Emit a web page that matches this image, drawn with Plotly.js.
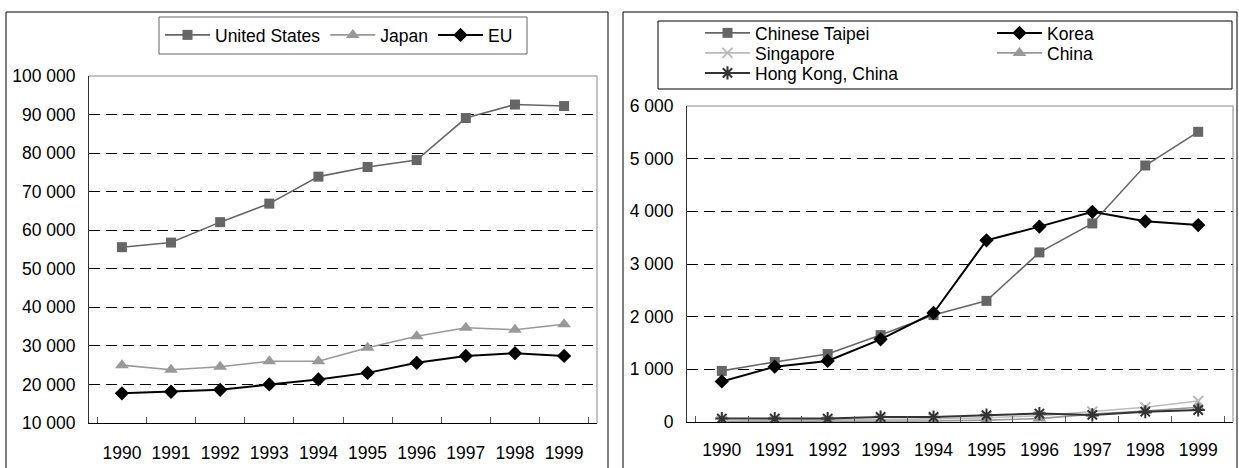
<!DOCTYPE html>
<html>
<head>
<meta charset="utf-8">
<script src="https://cdn.plot.ly/plotly-3.0.1.min.js"></script>
<style>html,body{margin:0;padding:0;background:#fff;}#chart{width:1239px;height:468px;}</style>
</head>
<body>
<div id="chart"></div>
<script>
// ---- data ----
const years = ['1990','1991','1992','1993','1994','1995','1996','1997','1998','1999'];

const unitedStates = [55600, 56800, 62100, 66900, 73900, 76400, 78200, 89100, 92600, 92200];
const japan        = [25000, 23800, 24600, 26000, 26000, 29500, 32500, 34700, 34200, 35600];
const eu           = [17700, 18100, 18600, 20000, 21300, 23000, 25600, 27400, 28100, 27400];

const chineseTaipei = [970, 1140, 1290, 1650, 2030, 2300, 3220, 3770, 4870, 5510];
const korea         = [770, 1050, 1160, 1570, 2070, 3450, 3710, 3990, 3810, 3740];
const singapore     = [20, 25, 30, 45, 60, 80, 120, 200, 280, 400];
const china         = [5, 5, 10, 15, 20, 35, 65, 150, 210, 280];
const hongKong      = [65, 65, 65, 95, 95, 130, 160, 135, 195, 228];

const W = 1239, H = 468;
const px = v => v / W;
const py = v => 1 - v / H;
const FONT = '"Liberation Sans", Arial, sans-serif';
const FS = 17.5;

function tr(name, y, color, symbol, size, xa, ya, legend, lw, mlinew) {
  return {
    type: 'scatter', mode: 'lines+markers', name: name,
    x: years, y: y, xaxis: xa, yaxis: ya, legend: legend,
    line: {color: color, width: lw},
    marker: {color: color, symbol: symbol, size: size, line: {color: color, width: mlinew || 0}},
    hoverinfo: 'x+y+name'
  };
}

const traces = [
  tr('United States', unitedStates, '#666666', 'square', 10, 'x', 'y', 'legend', 1.6),
  tr('Japan', japan, '#999999', 'triangle-up', 12, 'x', 'y', 'legend', 1.6),
  tr('EU', eu, '#000000', 'diamond', 11, 'x', 'y', 'legend', 2),
  tr('Chinese Taipei', chineseTaipei, '#666666', 'square', 10, 'x2', 'y2', 'legend2', 1.6),
  tr('Korea', korea, '#000000', 'diamond', 11, 'x2', 'y2', 'legend3', 2),
  tr('Singapore', singapore, '#bbbbbb', 'x-thin-open', 10, 'x2', 'y2', 'legend4', 1.6, 2),
  tr('China', china, '#999999', 'triangle-up', 12, 'x2', 'y2', 'legend5', 1.6),
  tr('Hong Kong, China', hongKong, '#333333', 'asterisk-open', 11, 'x2', 'y2', 'legend6', 2, 2)
];

const xCommon = {
  type: 'category', showline: true, linecolor: '#000', linewidth: 1,
  ticks: 'inside', tickson: 'boundaries', ticklen: 6, tickcolor: '#555', tickwidth: 1,
  showgrid: false, zeroline: false, fixedrange: true,
  tickfont: {family: FONT, size: FS, color: '#000'}
};
const yCommon = {
  showline: true, linecolor: '#333', linewidth: 1, ticks: '',
  showgrid: true, gridcolor: '#000', gridwidth: 1, griddash: '11px,6px',
  zeroline: false, fixedrange: true, tickformat: ',d',
  tickfont: {family: FONT, size: FS, color: '#000'}, ticklabelstandoff: 9
};

const legendCommon = {
  orientation: 'v', bgcolor: 'rgba(0,0,0,0)', borderwidth: 0,
  font: {family: FONT, size: FS, color: '#000'}, xanchor: 'left', yanchor: 'top',
  itemwidth: 45, tracegroupgap: 0, itemclick: false, itemdoubleclick: false
};
const lg = (x, y, extra) => Object.assign({}, legendCommon, {x: px(x), y: py(y)}, extra || {});

const layout = {
  width: W, height: H,
  margin: {l: 0, r: 0, t: 0, b: 0, pad: 0},
  paper_bgcolor: '#fff', plot_bgcolor: '#fff',
  separators: '. ',
  font: {family: FONT, size: FS, color: '#000'},
  showlegend: true,
  xaxis: Object.assign({}, xCommon, {domain: [px(89), px(597)], anchor: 'y', ticklabelstandoff: 14}),
  yaxis: Object.assign({}, yCommon, {domain: [py(423), py(76)], range: [10000, 100000], dtick: 10000, anchor: 'x'}),
  xaxis2: Object.assign({}, xCommon, {domain: [px(687), px(1233)], anchor: 'y2', ticklabelstandoff: 12}),
  yaxis2: Object.assign({}, yCommon, {domain: [py(422), py(106)], range: [0, 6000], dtick: 1000, anchor: 'x2'}),
  legend: lg(160, 17, {orientation: 'h'}),
  legend2: lg(700, 15),
  legend3: lg(992, 15),
  legend4: lg(700, 35),
  legend5: lg(992, 35),
  legend6: lg(700, 55),
  shapes: [
    // panel frames
    {type: 'rect', xref: 'paper', yref: 'paper', x0: px(6), x1: px(608), y0: -0.05, y1: py(12), line: {color: '#000', width: 1}},
    {type: 'rect', xref: 'paper', yref: 'paper', x0: px(623), x1: px(1237), y0: -0.05, y1: py(12), line: {color: '#000', width: 1}},
    // plot-area top/right borders
    {type: 'path', xref: 'x domain', yref: 'y domain', path: 'M 0 1 L 1 1 L 1 0', line: {color: '#888', width: 1}, layer: 'above'},
    {type: 'path', xref: 'x2 domain', yref: 'y2 domain', path: 'M 0 1 L 1 1 L 1 0', line: {color: '#888', width: 1}, layer: 'above'},
    // legend boxes
    {type: 'rect', xref: 'paper', yref: 'paper', x0: px(159), x1: px(527), y0: py(54), y1: py(17), line: {color: '#666', width: 1}},
    {type: 'rect', xref: 'paper', yref: 'paper', x0: px(658), x1: px(1232), y0: py(89), y1: py(21), line: {color: '#000', width: 1}}
  ]
};

Plotly.newPlot('chart', traces, layout, {displayModeBar: false, staticPlot: true});
</script>
</body>
</html>
